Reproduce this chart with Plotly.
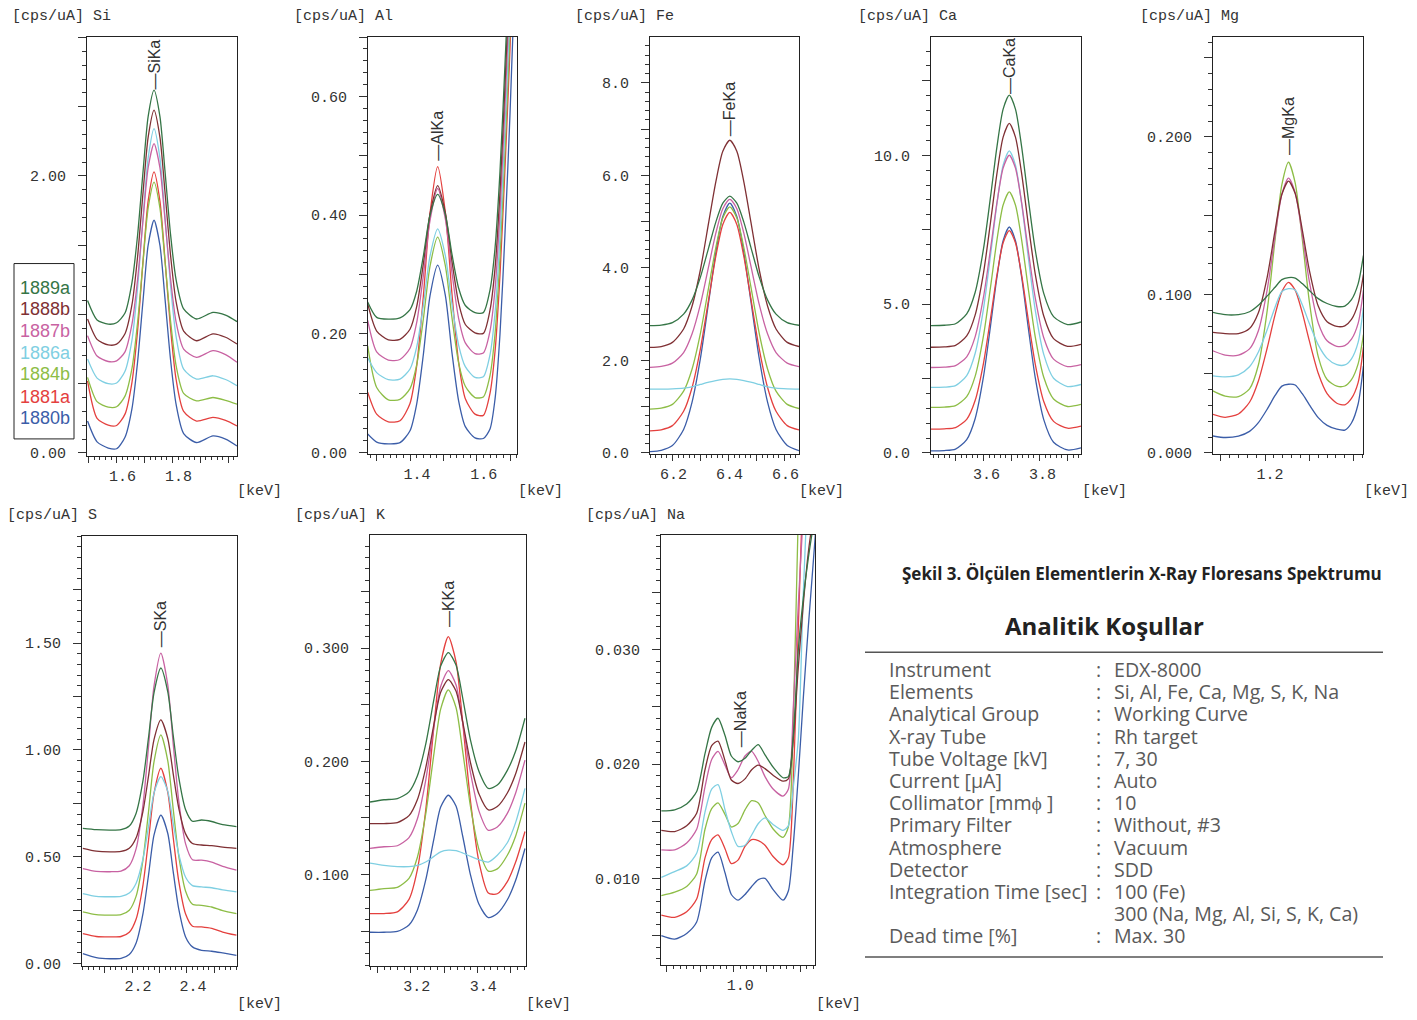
import plotly.graph_objects as go

W, H = 1417, 1020
YS = 1.011   # vertical compensation: the photographed page comes out ~1% shorter than laid out

# ---------------- data ----------------
sample_names = ["1889a", "1888b", "1887b", "1886a", "1884b", "1881a", "1880b"]
sample_colors = ["#357546", "#7f3034", "#c862a2", "#7fcfe2", "#8dbd46", "#e4403e", "#3b5da8"]

si_kev = [1.496, 1.53, 1.57, 1.60, 1.63, 1.655, 1.675, 1.695, 1.713, 1.734, 1.755, 1.773, 1.793, 1.813, 1.84, 1.886, 1.945, 1.99, 2.031]
si_cps = [
    [1.10, 0.96, 0.93, 0.94, 1.01, 1.23, 1.57, 2.04, 2.43, 2.62, 2.43, 2.04, 1.58, 1.25, 1.04, 0.967, 1.015, 0.995, 0.948],
    [0.967, 0.82, 0.78, 0.785, 0.86, 1.07, 1.415, 1.89, 2.28, 2.475, 2.28, 1.89, 1.43, 1.09, 0.88, 0.81, 0.86, 0.835, 0.786],
    [0.847, 0.70, 0.66, 0.665, 0.73, 0.93, 1.25, 1.69, 2.06, 2.233, 2.06, 1.69, 1.26, 0.945, 0.75, 0.69, 0.738, 0.71, 0.654],
    [0.678, 0.54, 0.50, 0.505, 0.59, 0.815, 1.19, 1.71, 2.13, 2.342, 2.13, 1.71, 1.21, 0.84, 0.605, 0.533, 0.557, 0.53, 0.485],
    [0.545, 0.37, 0.33, 0.333, 0.41, 0.61, 0.94, 1.39, 1.77, 1.956, 1.77, 1.39, 0.955, 0.63, 0.43, 0.376, 0.40, 0.38, 0.352],
    [0.52, 0.25, 0.20, 0.198, 0.28, 0.51, 0.88, 1.395, 1.82, 2.03, 1.82, 1.40, 0.90, 0.53, 0.30, 0.23, 0.256, 0.235, 0.195],
    [0.23, 0.08, 0.035, 0.03, 0.113, 0.32, 0.655, 1.11, 1.50, 1.68, 1.50, 1.12, 0.675, 0.35, 0.14, 0.075, 0.123, 0.10, 0.05],
]

al_kev = [1.273, 1.30, 1.335, 1.37, 1.40, 1.42, 1.44, 1.46, 1.483, 1.506, 1.526, 1.546, 1.566, 1.595, 1.62, 1.64, 1.655, 1.67, 1.685, 1.70, 1.721]
al_cps = [
    [0.254, 0.228, 0.225, 0.227, 0.241, 0.272, 0.331, 0.40, 0.435, 0.401, 0.334, 0.277, 0.248, 0.236, 0.236, 0.274, 0.344, 0.474, 0.654, 0.854, 1.18],
    [0.251, 0.205, 0.19, 0.191, 0.208, 0.246, 0.318, 0.402, 0.45, 0.404, 0.322, 0.252, 0.216, 0.202, 0.201, 0.24, 0.31, 0.44, 0.62, 0.82, 1.15],
    [0.223, 0.17, 0.156, 0.157, 0.176, 0.219, 0.298, 0.391, 0.445, 0.394, 0.303, 0.226, 0.185, 0.167, 0.168, 0.205, 0.275, 0.405, 0.585, 0.785, 1.1],
    [0.16, 0.135, 0.123, 0.124, 0.141, 0.178, 0.248, 0.331, 0.377, 0.332, 0.25, 0.181, 0.145, 0.127, 0.128, 0.165, 0.235, 0.365, 0.545, 0.745, 1.08],
    [0.18, 0.11, 0.089, 0.09, 0.108, 0.148, 0.225, 0.314, 0.363, 0.315, 0.227, 0.151, 0.112, 0.093, 0.094, 0.13, 0.2, 0.33, 0.51, 0.71, 1.05],
    [0.102, 0.065, 0.052, 0.054, 0.083, 0.146, 0.263, 0.403, 0.482, 0.405, 0.267, 0.152, 0.091, 0.065, 0.063, 0.10, 0.17, 0.30, 0.48, 0.68, 1.0],
    [0.0315, 0.018, 0.015, 0.017, 0.037, 0.082, 0.165, 0.264, 0.316, 0.265, 0.168, 0.087, 0.044, 0.025, 0.024, 0.04, 0.09, 0.2, 0.37, 0.57, 0.9],
]

fe_kev = [6.12, 6.16, 6.20, 6.24, 6.27, 6.30, 6.33, 6.355, 6.38, 6.405, 6.43, 6.455, 6.48, 6.51, 6.54, 6.57, 6.61, 6.652]
fe_cps = [
    [2.75, 2.764, 2.817, 3.0, 3.304, 3.80, 4.45, 4.99, 5.40, 5.55, 5.40, 4.99, 4.45, 3.80, 3.304, 3.0, 2.817, 2.76],
    [2.28, 2.30, 2.39, 2.68, 3.17, 3.96, 5.00, 5.86, 6.52, 6.76, 6.52, 5.86, 5.00, 3.96, 3.17, 2.68, 2.39, 2.30],
    [1.85, 1.87, 1.94, 2.17, 2.57, 3.21, 4.05, 4.75, 5.28, 5.48, 5.28, 4.75, 4.05, 3.21, 2.57, 2.17, 1.94, 1.865],
    [1.38, 1.38, 1.385, 1.40, 1.43, 1.48, 1.53, 1.565, 1.59, 1.60, 1.59, 1.565, 1.53, 1.48, 1.43, 1.40, 1.385, 1.38],
    [0.946, 0.968, 1.05, 1.335, 1.81, 2.585, 3.60, 4.44, 5.08, 5.32, 5.08, 4.44, 3.60, 2.585, 1.81, 1.335, 1.05, 0.96],
    [0.477, 0.50, 0.59, 0.90, 1.41, 2.25, 3.34, 4.25, 4.94, 5.20, 4.94, 4.25, 3.34, 2.25, 1.41, 0.90, 0.59, 0.496],
    [0.03, 0.057, 0.159, 0.508, 1.093, 2.044, 3.29, 4.33, 5.11, 5.40, 5.11, 4.33, 3.29, 2.044, 1.093, 0.508, 0.159, 0.05],
]

ca_kev = [3.412, 3.46, 3.50, 3.54, 3.57, 3.60, 3.625, 3.648, 3.67, 3.692, 3.714, 3.736, 3.76, 3.785, 3.815, 3.85, 3.90, 3.948]
ca_cps = [
    [4.28, 4.29, 4.34, 4.67, 5.39, 6.86, 8.60, 10.29, 11.55, 12.02, 11.55, 10.29, 8.52, 6.80, 5.36, 4.58, 4.31, 4.40],
    [3.55, 3.56, 3.61, 3.93, 4.63, 6.05, 7.75, 9.39, 10.61, 11.07, 10.61, 9.39, 7.67, 5.99, 4.60, 3.84, 3.58, 3.65],
    [2.87, 2.88, 2.93, 3.23, 3.90, 5.24, 6.85, 8.41, 9.57, 10.0, 9.57, 8.41, 6.78, 5.19, 3.87, 3.15, 2.90, 2.97],
    [2.20, 2.21, 2.26, 2.60, 3.34, 4.85, 6.64, 8.38, 9.67, 10.15, 9.67, 8.38, 6.56, 4.78, 3.31, 2.51, 2.23, 2.30],
    [1.53, 1.54, 1.59, 1.89, 2.57, 3.94, 5.57, 7.16, 8.33, 8.77, 8.33, 7.16, 5.50, 3.88, 2.54, 1.81, 1.56, 1.63],
    [0.80, 0.81, 0.85, 1.13, 1.76, 3.02, 4.52, 5.98, 7.06, 7.47, 7.06, 5.98, 4.46, 2.97, 1.73, 1.06, 0.83, 0.90],
    [0.07, 0.08, 0.13, 0.45, 1.15, 2.57, 4.27, 5.91, 7.13, 7.59, 7.13, 5.91, 4.19, 2.51, 1.12, 0.36, 0.10, 0.17],
]

mg_kev = [1.082, 1.11, 1.14, 1.165, 1.185, 1.205, 1.222, 1.238, 1.253, 1.268, 1.284, 1.30, 1.32, 1.34, 1.362, 1.38, 1.395, 1.41, 1.422]
mg_cps = [
    [0.089, 0.0875, 0.0876, 0.0894, 0.0935, 0.0994, 0.1047, 0.1097, 0.111, 0.1107, 0.1072, 0.1028, 0.0977, 0.0946, 0.0927, 0.093, 0.097, 0.107, 0.125],
    [0.0763, 0.0755, 0.0756, 0.0788, 0.0888, 0.1115, 0.1397, 0.1637, 0.172, 0.1642, 0.1412, 0.1156, 0.093, 0.0831, 0.0801, 0.0805, 0.0845, 0.0945, 0.113],
    [0.0647, 0.062, 0.0619, 0.0659, 0.0774, 0.1036, 0.1361, 0.1638, 0.174, 0.1648, 0.1381, 0.1084, 0.0823, 0.071, 0.0675, 0.068, 0.072, 0.082, 0.103],
    [0.0488, 0.0482, 0.0495, 0.0546, 0.0639, 0.0781, 0.0918, 0.1022, 0.104, 0.1032, 0.0938, 0.0819, 0.0684, 0.0599, 0.0559, 0.0557, 0.0596, 0.070, 0.092],
    [0.0393, 0.036, 0.0357, 0.0406, 0.0557, 0.0904, 0.1334, 0.1699, 0.184, 0.1709, 0.1354, 0.0957, 0.061, 0.0465, 0.0423, 0.0424, 0.0464, 0.0564, 0.075],
    [0.0245, 0.0226, 0.0247, 0.0321, 0.0456, 0.0666, 0.0868, 0.1021, 0.108, 0.1031, 0.0888, 0.0709, 0.0505, 0.0376, 0.0315, 0.0305, 0.0345, 0.0445, 0.067],
    [0.0108, 0.0098, 0.0107, 0.0137, 0.0192, 0.0278, 0.0361, 0.0423, 0.0435, 0.043, 0.0375, 0.0305, 0.0224, 0.0175, 0.0151, 0.0145, 0.019, 0.031, 0.055],
]

s_kev = [2.021, 2.07, 2.12, 2.16, 2.19, 2.215, 2.24, 2.26, 2.28, 2.305, 2.33, 2.35, 2.37, 2.395, 2.42, 2.453, 2.49, 2.53, 2.58]
s_cps = [
    [0.633, 0.627, 0.625, 0.627, 0.644, 0.704, 0.857, 1.057, 1.267, 1.383, 1.273, 1.067, 0.871, 0.72, 0.666, 0.672, 0.665, 0.65, 0.641],
    [0.539, 0.526, 0.523, 0.525, 0.54, 0.589, 0.714, 0.877, 1.048, 1.14, 1.054, 0.887, 0.728, 0.607, 0.562, 0.555, 0.552, 0.545, 0.539],
    [0.445, 0.432, 0.43, 0.433, 0.458, 0.538, 0.744, 1.014, 1.298, 1.453, 1.305, 1.027, 0.762, 0.56, 0.486, 0.484, 0.475, 0.455, 0.4375],
    [0.328, 0.315, 0.313, 0.315, 0.33, 0.376, 0.491, 0.641, 0.798, 0.875, 0.807, 0.656, 0.512, 0.404, 0.365, 0.359, 0.355, 0.345, 0.336],
    [0.242, 0.229, 0.227, 0.229, 0.25, 0.316, 0.487, 0.71, 0.944, 1.07, 0.95, 0.722, 0.504, 0.339, 0.278, 0.273, 0.265, 0.248, 0.234],
    [0.14, 0.127, 0.125, 0.127, 0.147, 0.209, 0.369, 0.577, 0.796, 0.914, 0.802, 0.589, 0.386, 0.232, 0.175, 0.172, 0.165, 0.148, 0.133],
    [0.047, 0.028, 0.023, 0.025, 0.043, 0.097, 0.235, 0.414, 0.601, 0.695, 0.61, 0.429, 0.256, 0.125, 0.0785, 0.0625, 0.058, 0.05, 0.039],
]

k_kev = [3.078, 3.12, 3.16, 3.195, 3.22, 3.245, 3.27, 3.29, 3.313, 3.336, 3.356, 3.38, 3.405, 3.433, 3.46, 3.49, 3.515, 3.543]
k_cps = [
    [0.164, 0.166, 0.167, 0.173, 0.187, 0.215, 0.255, 0.284, 0.296, 0.285, 0.256, 0.218, 0.191, 0.176, 0.179, 0.192, 0.209, 0.238],
    [0.145, 0.145, 0.1458, 0.152, 0.166, 0.194, 0.233, 0.261, 0.272, 0.262, 0.235, 0.198, 0.171, 0.157, 0.16, 0.172, 0.189, 0.217],
    [0.123, 0.1245, 0.1254, 0.1326, 0.149, 0.183, 0.231, 0.266, 0.28, 0.2675, 0.234, 0.189, 0.156, 0.139, 0.142, 0.154, 0.172, 0.201],
    [0.11, 0.108, 0.107, 0.107, 0.108, 0.111, 0.116, 0.12, 0.1215, 0.121, 0.119, 0.116, 0.113, 0.111, 0.117, 0.128, 0.146, 0.176],
    [0.086, 0.0876, 0.0886, 0.0966, 0.115, 0.153, 0.207, 0.246, 0.263, 0.2475, 0.209, 0.159, 0.122, 0.103, 0.105, 0.117, 0.134, 0.163],
    [0.0655, 0.0655, 0.067, 0.078, 0.104, 0.1565, 0.2315, 0.286, 0.31, 0.288, 0.2345, 0.1635, 0.111, 0.0836, 0.083, 0.0937, 0.111, 0.138],
    [0.049, 0.049, 0.0497, 0.0554, 0.0685, 0.095, 0.132, 0.1595, 0.170, 0.1605, 0.134, 0.099, 0.0737, 0.0619, 0.0656, 0.0777, 0.0949, 0.123],
]

na_kev = [0.784, 0.824, 0.86, 0.89, 0.915, 0.935, 0.954, 0.975, 0.994, 1.014, 1.035, 1.055, 1.075, 1.095, 1.12, 1.149, 1.165, 1.18, 1.195, 1.21, 1.225, 1.246]
na_cps = [
    [0.0159, 0.016, 0.0165, 0.0176, 0.0209, 0.0232, 0.0240, 0.0225, 0.0207, 0.0202, 0.0205, 0.0212, 0.0217, 0.0208, 0.0197, 0.0188, 0.0189, 0.0225, 0.030, 0.0345, 0.038, 0.042],
    [0.0142, 0.0141, 0.0146, 0.0157, 0.0195, 0.0216, 0.0220, 0.0203, 0.0186, 0.0183, 0.0187, 0.0195, 0.0199, 0.0196, 0.019, 0.0185, 0.0187, 0.0222, 0.0285, 0.034, 0.0385, 0.043],
    [0.0125, 0.0125, 0.0131, 0.0143, 0.018, 0.0204, 0.0211, 0.0199, 0.0188, 0.0195, 0.0207, 0.0211, 0.0202, 0.0189, 0.0178, 0.0172, 0.0178, 0.025, 0.034, 0.042, 0.05, 0.06],
    [0.0101, 0.0106, 0.0111, 0.0122, 0.0158, 0.0178, 0.0182, 0.016, 0.0141, 0.0128, 0.0129, 0.0138, 0.0148, 0.0153, 0.0147, 0.0142, 0.0146, 0.018, 0.0222, 0.035, 0.045, 0.055],
    [0.0085, 0.0088, 0.0093, 0.0104, 0.0143, 0.0161, 0.0166, 0.0156, 0.0145, 0.0148, 0.016, 0.0168, 0.0166, 0.0155, 0.0143, 0.0136, 0.0145, 0.024, 0.042, 0.055, 0.065, 0.075],
    [0.0068, 0.0066, 0.0071, 0.0082, 0.0118, 0.0134, 0.0138, 0.0126, 0.0113, 0.0116, 0.0128, 0.0134, 0.0133, 0.0129, 0.0119, 0.0112, 0.0118, 0.0185, 0.032, 0.045, 0.055, 0.065],
    [0.005, 0.0047, 0.0052, 0.0062, 0.0098, 0.0118, 0.0123, 0.0105, 0.0086, 0.0081, 0.0086, 0.0093, 0.0099, 0.0100, 0.009, 0.0081, 0.0089, 0.013, 0.019, 0.0258, 0.032, 0.040],
]

peak_lines = {"Si": ("SiKa", 1.734, 2.61), "Al": ("AlKa", 1.483, 0.488), "Fe": ("FeKa", 6.405, 6.80),
              "Ca": ("CaKa", 3.692, 12.0), "Mg": ("MgKa", 1.253, 0.187), "S": ("SKa", 2.305, 1.47),
              "K": ("KKa", 3.313, 0.317), "Na": ("NaKa", 1.02, 0.0213)}

caption = "Şekil 3. Ölçülen Elementlerin X-Ray Floresans Spektrumu"
table_title = "Analitik Koşullar"
table_labels = ["Instrument", "Elements", "Analytical Group", "X-ray Tube", "Tube Voltage [kV]", "Current [μA]",
                "Collimator [mmϕ ]", "Primary Filter", "Atmosphere", "Detector", "Integration Time [sec]", "", "Dead time [%]"]
table_values = ["EDX-8000", "Si, Al, Fe, Ca, Mg, S, K, Na", "Working Curve", "Rh target", "7, 30", "Auto", "10",
                "Without, #3", "Vacuum", "SDD", "100 (Fe)", "300 (Na, Mg, Al, Si, S, K, Ca)", "Max. 30"]

# ---------------- layout specs ----------------
panels = [
    dict(el="Si", kev=si_kev, cps=si_cps, box=(87, 37, 237, 455), xr=[1.494, 2.031], yr=[-0.022, 3.003],
         xt=[1.5, 1.6, 1.7, 1.8, 1.9, 2.0], xl=["", "1.6", "", "1.8", "", ""], xs=6,
         yt=[0, 0.5, 1.0, 1.5, 2.0, 2.5, 3.0], yl=["0.00", "", "", "", "2.00", "", ""], ym=0.1,
         title=(10, 16), kevlab=(259, 490)),
    dict(el="Al", kev=al_kev, cps=al_cps, box=(368, 37, 517, 453), xr=[1.274, 1.721], yr=[-0.002, 0.700],
         xt=[1.3, 1.4, 1.5, 1.6, 1.7], xl=["", "1.4", "", "1.6", ""], xs=7,
         yt=[0, 0.1, 0.2, 0.3, 0.4, 0.5, 0.6, 0.7], yl=["0.00", "", "0.20", "", "0.40", "", "0.60", ""], ym=0.02,
         title=(292, 16), kevlab=(540, 490)),
    dict(el="Fe", kev=fe_kev, cps=fe_cps, box=(650, 37, 799, 453), xr=[6.12, 6.652], yr=[-0.022, 8.99],
         xt=[6.2, 6.3, 6.4, 6.5, 6.6], xl=["6.2", "", "6.4", "", "6.6"], xs=1,
         yt=[0, 1, 2, 3, 4, 5, 6, 7, 8], yl=["0.0", "", "2.0", "", "4.0", "", "6.0", "", "8.0"], ym=0.2,
         title=(573, 16), kevlab=(821, 490)),
    dict(el="Ca", kev=ca_kev, cps=ca_cps, box=(931, 37, 1081, 453), xr=[3.4125, 3.948], yr=[-0.034, 13.97],
         xt=[3.5, 3.6, 3.7, 3.8, 3.9], xl=["", "3.6", "", "3.8", ""], xs=3,
         yt=[0, 2.5, 5, 7.5, 10, 12.5], yl=["0.0", "", "5.0", "", "10.0", ""], ym=0.5,
         title=(856, 16), kevlab=(1104, 490)),
    dict(el="Mg", kev=mg_kev, cps=mg_cps, box=(1213, 37, 1363, 453), xr=[1.0826, 1.421], yr=[-0.0006, 0.2632],
         xt=[1.1, 1.2, 1.3, 1.4], xl=["", "1.2", "", ""], xs=5,
         yt=[0, 0.05, 0.1, 0.15, 0.2, 0.25], yl=["0.000", "", "0.100", "", "0.200", ""], ym=0.01,
         title=(1138, 16), kevlab=(1386, 490)),
    dict(el="S", kev=s_kev, cps=s_cps, box=(82, 535, 237, 964), xr=[2.018, 2.582], yr=[-0.011, 2.0],
         xt=[2.1, 2.2, 2.3, 2.4, 2.5], xl=["", "2.2", "", "2.4", ""], xs=6,
         yt=[0, 0.25, 0.5, 0.75, 1.0, 1.25, 1.5, 1.75], yl=["0.00", "", "0.50", "", "1.00", "", "1.50", ""], ym=0.05,
         title=(5, 514), kevlab=(259, 1002)),
    dict(el="K", kev=k_kev, cps=k_cps, box=(370, 534, 526, 964), xr=[3.078, 3.546], yr=[0.0192, 0.3997],
         xt=[3.1, 3.2, 3.3, 3.4, 3.5], xl=["", "3.2", "", "3.4", ""], xs=6,
         yt=[0.05, 0.1, 0.15, 0.2, 0.25, 0.3, 0.35], yl=["", "0.100", "", "0.200", "", "0.300", ""], ym=0.01,
         title=(293, 514), kevlab=(548, 1002)),
    dict(el="Na", kev=na_kev, cps=na_cps, box=(661, 534, 815, 963), xr=[0.783, 1.245], yr=[0.00244, 0.0400],
         xt=[0.8, 0.9, 1.0, 1.1, 1.2], xl=["", "", "1.0", "", ""], xs=7,
         yt=[0.005, 0.01, 0.015, 0.02, 0.025, 0.03, 0.035], yl=["", "0.010", "", "0.020", "", "0.030", ""], ym=0.001,
         title=(584, 514), kevlab=(838, 1002)),
]


def fx(px):
    return px / W


def fy(py):
    return 1 - py * YS / H


MONO = "Liberation Mono"
TXT = "#333333"

fig = go.Figure()
annotations = []
shapes = []
layout_axes = {}

for i, p in enumerate(panels):
    n = i + 1
    xa = "x" if n == 1 else f"x{n}"
    ya = "y" if n == 1 else f"y{n}"
    xkey = "xaxis" if n == 1 else f"xaxis{n}"
    ykey = "yaxis" if n == 1 else f"yaxis{n}"
    l, t, r, b = p["box"]
    for j in reversed(range(len(sample_names))):
        fig.add_trace(go.Scatter(
            x=p["kev"], y=p["cps"][j], xaxis=xa, yaxis=ya, mode="lines",
            line=dict(color=sample_colors[j], width=1.3, shape="spline", smoothing=0.7),
            name=sample_names[j], showlegend=False, hoverinfo="skip"))
    common = dict(showline=True, mirror=True, linecolor="#222222", linewidth=1, showgrid=False,
                  zeroline=False, ticks="outside", tickcolor="#333333", tickwidth=1,
                  tickfont=dict(family=MONO, size=15, color=TXT), fixedrange=True)
    layout_axes[xkey] = dict(common, domain=[fx(l), fx(r)], range=p["xr"], anchor=ya,
                             tickmode="array", tickvals=p["xt"], ticktext=p["xl"], ticklen=6,
                             ticklabelshift=p["xs"],
                             minor=dict(ticks="outside", tickmode="linear", tick0=0, dtick=0.02,
                                        ticklen=3, tickcolor="#333333", showgrid=False))
    layout_axes[ykey] = dict(common, domain=[fy(b), fy(t)], range=p["yr"], anchor=xa,
                             tickmode="array", tickvals=p["yt"], ticktext=p["yl"], ticklen=8,
                             ticklabelstandoff=9,
                             minor=dict(ticks="outside", tickmode="linear", tick0=0, dtick=p["ym"],
                                        ticklen=4, tickcolor="#333333", showgrid=False))
    annotations.append(dict(text=f"[cps/uA] {p['el']}", x=fx(p["title"][0]), y=fy(p["title"][1]),
                            xref="paper", yref="paper", xanchor="left", yanchor="middle", showarrow=False,
                            font=dict(family=MONO, size=15, color=TXT)))
    annotations.append(dict(text="[keV]", x=fx(p["kevlab"][0]), y=fy(p["kevlab"][1]),
                            xref="paper", yref="paper", xanchor="center", yanchor="middle", showarrow=False,
                            font=dict(family=MONO, size=15, color=TXT)))
    lab, lx, ly = peak_lines[p["el"]]
    annotations.append(dict(text="—" + lab, x=lx, y=ly, xref=xa, yref=ya, textangle=-90,
                            xanchor="center", yanchor="bottom", showarrow=False,
                            font=dict(family="Liberation Sans", size=16, color=TXT)))

# legend box inside Si panel
shapes.append(dict(type="rect", xref="paper", yref="paper", x0=fx(14), x1=fx(74), y0=fy(438), y1=fy(263),
                   line=dict(color="#222222", width=1), fillcolor="white", layer="above"))
legend_y = [287, 308, 330, 352, 373, 396, 417]
for j, nm in enumerate(sample_names):
    annotations.append(dict(text=nm, x=fx(18), y=fy(legend_y[j]), xref="paper", yref="paper",
                            xanchor="left", yanchor="middle", showarrow=False,
                            font=dict(family="Liberation Sans", size=18, color=sample_colors[j])))

# caption and conditions table
annotations.append(dict(text=f"<b>{caption}</b>", x=fx(1142), y=fy(572), xref="paper", yref="paper",
                        xanchor="center", yanchor="middle", showarrow=False,
                        font=dict(family="Open Sans", size=17, color="#222222")))
annotations.append(dict(text=f"<b>{table_title}</b>", x=fx(1104), y=fy(624), xref="paper", yref="paper",
                        xanchor="center", yanchor="middle", showarrow=False,
                        font=dict(family="Open Sans", size=24, color="#222222")))
for yy in (651, 955):
    shapes.append(dict(type="line", xref="paper", yref="paper", x0=fx(865), x1=fx(1383), y0=fy(yy), y1=fy(yy),
                       line=dict(color="#555555", width=1.5)))
row_y0, row_dy = 668, 22.17
for k, (lab, val) in enumerate(zip(table_labels, table_values)):
    yy = row_y0 + k * row_dy
    if lab:
        annotations.append(dict(text=lab, x=fx(887), y=fy(yy), xref="paper", yref="paper", xanchor="left",
                                yanchor="middle", showarrow=False,
                                font=dict(family="Open Sans", size=19.6, color="#5a5a5a")))
        annotations.append(dict(text=":", x=fx(1098), y=fy(yy), xref="paper", yref="paper", xanchor="center",
                                yanchor="middle", showarrow=False,
                                font=dict(family="Open Sans", size=19.6, color="#5a5a5a")))
    annotations.append(dict(text=val, x=fx(1112), y=fy(yy), xref="paper", yref="paper", xanchor="left",
                            yanchor="middle", showarrow=False,
                            font=dict(family="Open Sans", size=19.6, color="#5a5a5a")))

fig.update_layout(width=W, height=H, autosize=False, margin=dict(l=0, r=0, t=0, b=0),
                  paper_bgcolor="white", plot_bgcolor="white", showlegend=False,
                  annotations=annotations, shapes=shapes, **layout_axes)

fig.write_html("out.html", config={"displayModeBar": False, "staticPlot": True},
               post_script="document.body.style.margin='0';document.body.style.overflow='hidden';")
